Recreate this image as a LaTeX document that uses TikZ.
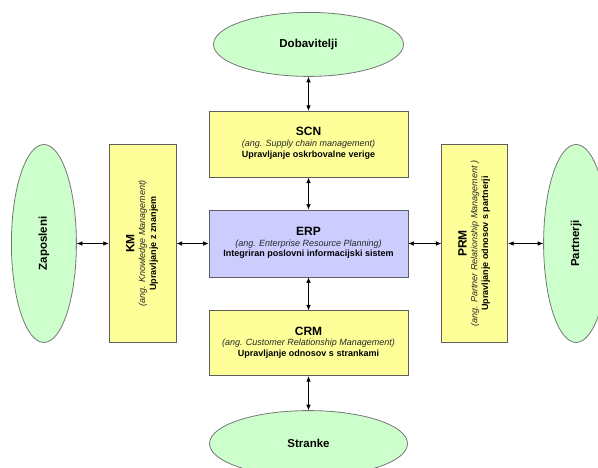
\documentclass[tikz,border=0pt]{standalone}
\usepackage{fontspec}
\setmainfont{Liberation Sans}
\usepackage{graphicx}
\usetikzlibrary{positioning,arrows.meta,shapes.geometric}

\definecolor{boxyellow}{HTML}{FFFF99}
\definecolor{boxblue}{HTML}{CCCCFF}
\definecolor{ellgreen}{HTML}{CCFFCC}
\definecolor{edgegray}{HTML}{5E5E5E}

\newcommand{\boxtext}[3]{\renewcommand{\arraystretch}{0.9}%
  \begin{tabular}{@{}c@{}}
    {\fontsize{12}{13}\selectfont\bfseries #1}\\
    {\fontsize{9}{10}\selectfont\itshape\color{black!85} #2}\\
    {\fontsize{9}{10}\selectfont\bfseries #3}
  \end{tabular}}

\begin{document}
\begin{tikzpicture}[>={Latex[length=5.5pt,width=4.5pt]},
  mainbox/.style={draw=edgegray,line width=0.8pt,fill=boxyellow,minimum width=199pt,minimum height=66pt,inner sep=0pt},
  sidebox/.style={draw=edgegray,line width=0.8pt,fill=boxyellow,minimum width=67pt,minimum height=198pt,inner sep=0pt},
  party/.style={ellipse,draw=edgegray!85,line width=0.8pt,fill=ellgreen,inner sep=0pt,font=\fontsize{11.5}{13}\selectfont\bfseries},
  link/.style={<->,line width=0.6pt,black}]
  \clip (0,0) rectangle (598pt,-468pt);

  % central block
  \node[mainbox,fill=boxblue,minimum height=67pt] (erp) at (308.5pt,-243.5pt)
    {\boxtext{ERP}{(ang. Enterprise Resource Planning)}{Integriran poslovni informacijski sistem}};

  \node[mainbox,above=32pt of erp] (scn)
    {\boxtext{SCN}{(ang. Supply chain management)}{Upravljanje oskrbovalne verige}};
  \node[mainbox,below=33pt of erp,minimum height=65pt] (crm)
    {\boxtext{CRM}{(ang. Customer Relationship Management)}{Upravljanje odnosov s strankami}};
  \node[sidebox,left=32pt of erp] (km)
    {\rotatebox{90}{\boxtext{KM}{(ang. Knowledge Management)}{Upravljanje z znanjem}}};
  \node[sidebox,right=33pt of erp,minimum width=66pt] (prm)
    {\rotatebox{90}{\boxtext{PRM}{(ang. Partner Relationship Management )}{Upravljanje odnosov s partnerji}}};

  % outer parties
  \node[party,above=34pt of scn,minimum width=190pt,minimum height=64pt] (dob) {Dobavitelji};
  \node[party,below=34pt of crm,minimum width=198pt,minimum height=66pt] (str) {Stranke};
  \node[party,left=32pt of km,minimum width=65pt,minimum height=198pt] (zap) {\rotatebox{90}{Zaposleni}};
  \node[party,right=35pt of prm,minimum width=65pt,minimum height=198pt] (par) {\rotatebox{90}{Partnerji}};

  \draw[link] (dob) -- (scn);
  \draw[link] (scn) -- (erp);
  \draw[link] (erp) -- (crm);
  \draw[link] (crm) -- (str);
  \draw[link] (zap) -- (km);
  \draw[link] (km) -- (erp);
  \draw[link] (erp) -- (prm);
  \draw[link] (prm) -- (par);
\end{tikzpicture}
\end{document}
